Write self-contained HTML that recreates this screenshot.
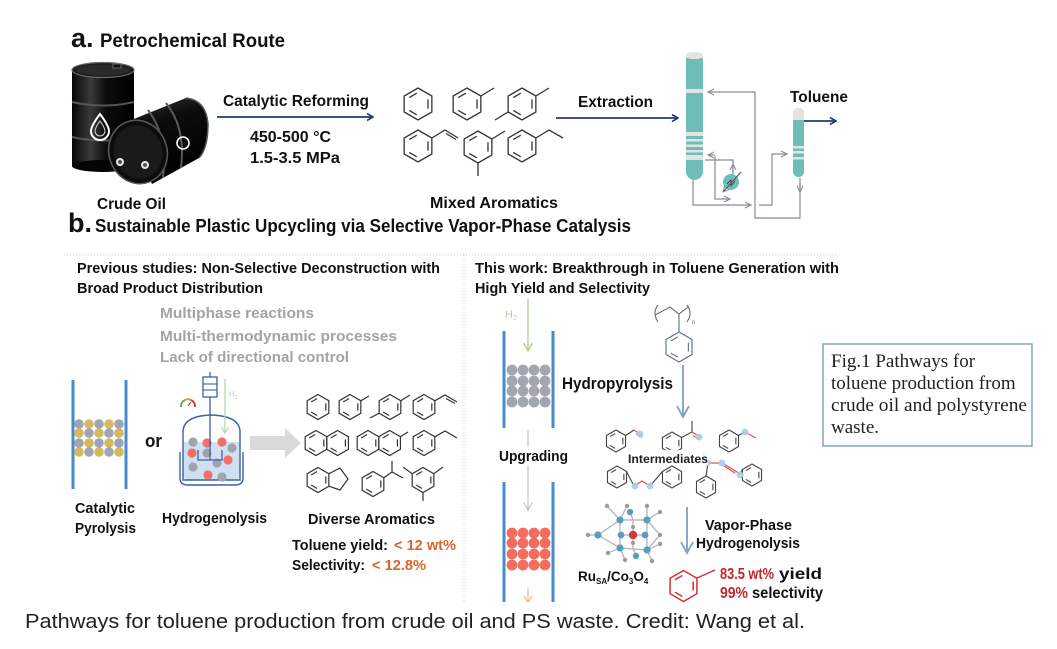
<!DOCTYPE html>
<html><head><meta charset="utf-8"><style>
html,body{margin:0;padding:0;background:#fff;}
svg{display:block;}
text{font-family:"Liberation Sans",Arial,sans-serif;}
.b{font-weight:bold;}
</style></head><body>
<svg width="1057" height="649" viewBox="0 0 1057 649" xmlns="http://www.w3.org/2000/svg">
<defs>
<g id="bz" fill="none">
<polygon vector-effect="non-scaling-stroke" points="0,-10 8.66,-5 8.66,5 0,10 -8.66,5 -8.66,-5"/>
<line vector-effect="non-scaling-stroke" x1="6.24" y1="-2.9" x2="6.24" y2="2.9"/>
<line vector-effect="non-scaling-stroke" x1="-0.75" y1="6.77" x2="-5.49" y2="4.03"/>
<line vector-effect="non-scaling-stroke" x1="-5.49" y1="-4.03" x2="-0.75" y2="-6.77"/>
</g>
<linearGradient id="bar1" x1="0" y1="0" x2="1" y2="0">
<stop offset="0" stop-color="#050505"/><stop offset="0.3" stop-color="#3a3a3a"/><stop offset="0.55" stop-color="#0c0c0c"/><stop offset="1" stop-color="#000"/>
</linearGradient>
<linearGradient id="bar2" x1="0" y1="0" x2="0.3" y2="1">
<stop offset="0" stop-color="#3a3a3a"/><stop offset="0.35" stop-color="#0c0c0c"/><stop offset="1" stop-color="#000"/>
</linearGradient>
<clipPath id="cl"><rect x="0" y="0" width="1057" height="602"/></clipPath>
<marker id="an" markerWidth="8" markerHeight="8" refX="7" refY="4" orient="auto" markerUnits="userSpaceOnUse"><path d="M1,0.5 L7,4 L1,7.5" fill="none" stroke="#1f3b73" stroke-width="1.6"/></marker>
<marker id="ag" markerWidth="8" markerHeight="8" refX="7" refY="4" orient="auto" markerUnits="userSpaceOnUse"><path d="M1,1 L7,4 L1,7" fill="none" stroke="#8a8a9a" stroke-width="1.1"/></marker>
</defs>

<g clip-path="url(#cl)">
<!-- ===== a. header ===== -->
<text x="71" y="47" class="b" font-size="27" fill="#111">a.</text>
<text x="100" y="47" class="b" font-size="19" fill="#111" textLength="185" lengthAdjust="spacingAndGlyphs">Petrochemical Route</text>

<!-- barrels -->
<g>
<rect x="72" y="70" width="62" height="96" fill="url(#bar1)"/>
<ellipse cx="103" cy="166" rx="31" ry="6" fill="#050505"/>
<ellipse cx="103" cy="70" rx="31" ry="7.5" fill="#1c1c1c" stroke="#6a6a6a" stroke-width="1.2"/>
<ellipse cx="103" cy="70" rx="27" ry="5.5" fill="#2a2a2a"/>
<rect x="113" y="64" width="8" height="4" fill="#111" stroke="#777" stroke-width="0.8"/>
<path d="M72,102 Q103,109 134,102" stroke="#555" stroke-width="2" fill="none"/>
<path d="M72,137 Q103,144 134,137" stroke="#555" stroke-width="2" fill="none"/>
<path d="M100,114 Q91,126 91,131 A9,9 0 0 0 109,131 Q109,126 100,114 Z" fill="none" stroke="#fff" stroke-width="2"/>
<path d="M100,121 Q95,128 95,131 A5,5 0 0 0 105,131 Q105,128 100,121 Z" fill="none" stroke="#ddd" stroke-width="1"/>
<!-- lying barrel -->
<path d="M124,123 L186,98 Q206,100 208,124 Q208,148 199,158 L152,184 Z" fill="url(#bar2)"/>
<path d="M148,110 Q168,136 163,178" stroke="#5a5a5a" stroke-width="2" fill="none"/>
<path d="M166,103 Q186,128 181,168" stroke="#5a5a5a" stroke-width="2" fill="none"/>
<path d="M186,98 Q206,100 208,124 Q208,148 199,158" stroke="#555" stroke-width="1.5" fill="none"/>
<ellipse cx="138" cy="152" rx="29" ry="32" transform="rotate(-20 138 152)" fill="#0d0d0d" stroke="#5a5a5a" stroke-width="1.5"/>
<ellipse cx="138" cy="152" rx="24" ry="27" transform="rotate(-20 138 152)" fill="#1a1a1a"/>
<circle cx="120" cy="162" r="4" fill="#e8e8e8"/><circle cx="145" cy="165" r="4" fill="#e8e8e8"/>
<circle cx="120" cy="162" r="2" fill="#555"/><circle cx="145" cy="165" r="2" fill="#555"/>
<circle cx="183" cy="143" r="6" fill="none" stroke="#fff" stroke-width="1.6"/>
</g>
<text x="97" y="209" class="b" font-size="16" fill="#111" textLength="69" lengthAdjust="spacingAndGlyphs">Crude Oil</text>

<!-- catalytic reforming -->
<text x="223" y="106" class="b" font-size="16" fill="#111" textLength="146" lengthAdjust="spacingAndGlyphs">Catalytic Reforming</text>
<line x1="217" y1="117" x2="373" y2="117" stroke="#1f3b73" stroke-width="1.8" marker-end="url(#an)"/>
<text x="250" y="142" class="b" font-size="16" fill="#111" textLength="81" lengthAdjust="spacingAndGlyphs">450-500 °C</text>
<text x="250" y="163" class="b" font-size="16" fill="#111" textLength="90" lengthAdjust="spacingAndGlyphs">1.5-3.5 MPa</text>

<!-- mixed aromatics -->
<g stroke="#333" stroke-width="1.3" fill="none">
<use href="#bz" transform="translate(418,104) scale(1.6)"/>
<use href="#bz" transform="translate(467,104) scale(1.6)"/>
<line x1="480.9" y1="96" x2="494" y2="88"/>
<use href="#bz" transform="translate(522,104) scale(1.6)"/>
<line x1="535.9" y1="96" x2="549" y2="88"/>
<line x1="508.1" y1="112" x2="495" y2="120"/>
<use href="#bz" transform="translate(418,146) scale(1.6)"/>
<polyline points="431.9,138 445,130 458,138"/>
<line x1="446" y1="133.5" x2="456" y2="139.5"/>
<use href="#bz" transform="translate(478,147) scale(1.6)"/>
<line x1="491.9" y1="139" x2="505" y2="131"/>
<line x1="478" y1="163" x2="478" y2="176"/>
<use href="#bz" transform="translate(522,146) scale(1.6)"/>
<polyline points="535.9,138 549,130 563,138"/>
</g>
<text x="430" y="208" class="b" font-size="16" fill="#111" textLength="128" lengthAdjust="spacingAndGlyphs">Mixed Aromatics</text>

<!-- extraction -->
<text x="578" y="107" class="b" font-size="16" fill="#111" textLength="75" lengthAdjust="spacingAndGlyphs">Extraction</text>
<line x1="556" y1="118" x2="678" y2="118" stroke="#1f3b73" stroke-width="1.8" marker-end="url(#an)"/>
<text x="790" y="102" class="b" font-size="16" fill="#111" textLength="58" lengthAdjust="spacingAndGlyphs">Toluene</text>

<!-- columns -->
<rect x="686" y="52" width="17" height="128" rx="8.5" fill="#6fbdb7"/>
<rect x="686" y="52" width="17" height="7" rx="6" fill="#e3e3e3"/>
<g fill="#e3e3e3">
<rect x="686" y="89" width="17" height="4"/>
<rect x="686" y="132" width="17" height="4"/>
<rect x="686" y="139" width="17" height="2.5"/>
<rect x="686" y="144.5" width="17" height="2.5"/>
<rect x="686" y="150" width="17" height="2.5"/>
<rect x="686" y="155" width="17" height="5"/>
</g>
<rect x="793" y="108" width="11" height="69" rx="5.5" fill="#6fbdb7"/>
<rect x="793" y="108" width="11" height="12" rx="5" fill="#e3e3e3"/>
<rect x="793" y="115" width="11" height="5" fill="#e3e3e3"/>
<g fill="#e3e3e3">
<rect x="793" y="146" width="11" height="2.5"/>
<rect x="793" y="151" width="11" height="2.5"/>
<rect x="793" y="157" width="11" height="2.5"/>
</g>
<line x1="804" y1="121" x2="836" y2="121" stroke="#1f3b73" stroke-width="1.8" marker-end="url(#an)"/>
<g stroke="#8a8a9a" stroke-width="1.2" fill="none">
<polyline points="800,178 800,218 755,218 755,92 708,92" marker-end="url(#ag)"/>
<line x1="800" y1="182" x2="800" y2="192" marker-end="url(#ag)"/>
<polyline points="693,180 693,205 751,205" marker-end="url(#ag)"/>
<polyline points="759,205 772,205 772,154 787,154" marker-end="url(#ag)"/>
<polyline points="715,156 715,199 730,199" marker-end="url(#ag)"/>
<line x1="715" y1="155" x2="708" y2="155" marker-end="url(#ag)"/>
<polyline points="705,160 733,160 733,174"/>
<line x1="733" y1="176" x2="733" y2="164" marker-end="url(#ag)"/>
</g>
<circle cx="731" cy="182" r="8" fill="#6fbdb7"/>
<line x1="741" y1="172" x2="723" y2="192" stroke="#555" stroke-width="1.1" marker-end="url(#ag)"/>
<polyline points="727,184 731,180 731,186 735,181" stroke="#444" stroke-width="0.9" fill="none"/>

<!-- ===== b. header ===== -->
<text x="68" y="232" class="b" font-size="27" fill="#111">b.</text>
<text x="95" y="232" class="b" font-size="18" fill="#111" textLength="536" lengthAdjust="spacingAndGlyphs">Sustainable Plastic Upcycling via Selective Vapor-Phase Catalysis</text>

<!-- dotted frames -->
<g stroke="#cfcfcf" stroke-width="1" stroke-dasharray="1,2" fill="none">
<line x1="64" y1="255" x2="837" y2="255"/>
<line x1="464" y1="255" x2="464" y2="602"/>
</g>

<!-- left panel -->
<text x="77" y="273" class="b" font-size="14.5" fill="#111" textLength="363" lengthAdjust="spacingAndGlyphs">Previous studies: Non-Selective Deconstruction with</text>
<text x="77" y="293" class="b" font-size="14.5" fill="#111" textLength="186" lengthAdjust="spacingAndGlyphs">Broad Product Distribution</text>
<text x="160" y="318" class="b" font-size="15" fill="#a3a3a3" textLength="154" lengthAdjust="spacingAndGlyphs">Multiphase reactions</text>
<text x="160" y="341" class="b" font-size="15" fill="#a3a3a3" textLength="237" lengthAdjust="spacingAndGlyphs">Multi-thermodynamic processes</text>
<text x="160" y="362" class="b" font-size="15" fill="#a3a3a3" textLength="189" lengthAdjust="spacingAndGlyphs">Lack of directional control</text>

<!-- catalytic pyrolysis -->
<line x1="73" y1="380" x2="73" y2="489" stroke="#4a8bcb" stroke-width="3"/>
<line x1="126" y1="380" x2="126" y2="489" stroke="#4a8bcb" stroke-width="3"/>
<g>
<circle cx="79" cy="424" r="4.8" fill="#9ea5b6"/><circle cx="89" cy="424" r="4.8" fill="#d6b95c"/><circle cx="99" cy="424" r="4.8" fill="#9ea5b6"/><circle cx="109" cy="424" r="4.8" fill="#d6b95c"/><circle cx="119" cy="424" r="4.8" fill="#9ea5b6"/>
<circle cx="79" cy="433" r="4.8" fill="#d6b95c"/><circle cx="89" cy="433" r="4.8" fill="#9ea5b6"/><circle cx="99" cy="433" r="4.8" fill="#d6b95c"/><circle cx="109" cy="433" r="4.8" fill="#9ea5b6"/><circle cx="119" cy="433" r="4.8" fill="#d6b95c"/>
<circle cx="79" cy="443" r="4.8" fill="#9ea5b6"/><circle cx="89" cy="443" r="4.8" fill="#d6b95c"/><circle cx="99" cy="443" r="4.8" fill="#9ea5b6"/><circle cx="109" cy="443" r="4.8" fill="#d6b95c"/><circle cx="119" cy="443" r="4.8" fill="#9ea5b6"/>
<circle cx="79" cy="452" r="4.8" fill="#d6b95c"/><circle cx="89" cy="452" r="4.8" fill="#9ea5b6"/><circle cx="99" cy="452" r="4.8" fill="#d6b95c"/><circle cx="109" cy="452" r="4.8" fill="#9ea5b6"/><circle cx="119" cy="452" r="4.8" fill="#d6b95c"/>
</g>
<text x="145" y="447" class="b" font-size="18" fill="#111" textLength="17" lengthAdjust="spacingAndGlyphs">or</text>
<text x="75" y="513" class="b" font-size="14.5" fill="#111" textLength="60" lengthAdjust="spacingAndGlyphs">Catalytic</text>
<text x="75" y="533" class="b" font-size="14.5" fill="#111" textLength="61" lengthAdjust="spacingAndGlyphs">Pyrolysis</text>

<!-- hydrogenolysis vessel -->
<path d="M183,442 L183,474 Q183,480 190,480 L233,480 Q240,480 240,474 L240,442 Z" fill="#cfe1f1"/>
<path d="M183,480 L183,432 Q183,416 211,415 Q240,416 240,432 L240,480 Z" fill="none" stroke="#3d5fa8" stroke-width="1.4"/>
<path d="M180,452 L180,478 Q180,485 188,485 L235,485 Q243,485 243,478 L243,452" fill="none" stroke="#3d5fa8" stroke-width="1.4"/>
<rect x="203" y="377" width="14" height="20" fill="#fff" stroke="#3d5fa8" stroke-width="1.3"/>
<line x1="203" y1="384" x2="217" y2="384" stroke="#3d5fa8" stroke-width="1.1"/>
<line x1="203" y1="390" x2="217" y2="390" stroke="#3d5fa8" stroke-width="1.1"/>
<line x1="210" y1="372" x2="210" y2="377" stroke="#3d5fa8" stroke-width="1.3"/>
<g>
<circle cx="193" cy="442" r="4.6" fill="#a2a4ad"/><circle cx="207" cy="443" r="4.6" fill="#f07068"/><circle cx="222" cy="442" r="4.6" fill="#f07068"/><circle cx="232" cy="448" r="4.6" fill="#a2a4ad"/>
<circle cx="192" cy="453" r="4.6" fill="#f07068"/><circle cx="207" cy="453" r="4.6" fill="#a2a4ad"/><circle cx="228" cy="460" r="4.6" fill="#f07068"/><circle cx="217" cy="463" r="4.6" fill="#a2a4ad"/>
<circle cx="193" cy="467" r="4.6" fill="#a2a4ad"/><circle cx="208" cy="475" r="4.6" fill="#f07068"/><circle cx="222" cy="477" r="4.6" fill="#a2a4ad"/>
</g>
<line x1="210" y1="397" x2="210" y2="460" stroke="#3d5fa8" stroke-width="1.3"/>
<polyline points="198,450 198,460 222,460 222,450" fill="none" stroke="#3d5fa8" stroke-width="1.3"/>
<path d="M181,407 A7,7 0 0 1 185,400" fill="none" stroke="#6aa84f" stroke-width="2"/>
<path d="M185,400 A7,7 0 0 1 191,400" fill="none" stroke="#e69138" stroke-width="2"/>
<path d="M191,400 A7,7 0 0 1 195,407" fill="none" stroke="#cc3333" stroke-width="2"/>
<line x1="188" y1="406" x2="191" y2="402" stroke="#555" stroke-width="1"/>
<line x1="225" y1="379" x2="225" y2="432" stroke="#b5d6a0" stroke-width="1.2"/>
<polyline points="221.5,427 225,433 228.5,427" fill="none" stroke="#b5d6a0" stroke-width="1.2"/>
<text x="229" y="397" font-size="8" fill="#b5d6a0">H<tspan font-size="5.5" dy="2">2</tspan></text>
<text x="162" y="523" class="b" font-size="14.5" fill="#111" textLength="105" lengthAdjust="spacingAndGlyphs">Hydrogenolysis</text>

<!-- gray arrow -->
<polygon points="250,436 285,436 285,428 301,443 285,458 285,450 250,450" fill="#d9d9d9"/>

<!-- diverse aromatics -->
<g stroke="#333" stroke-width="1.2" fill="none">
<use href="#bz" transform="translate(318,407) scale(1.25)"/>
<use href="#bz" transform="translate(350,407) scale(1.25)"/>
<line x1="360.8" y1="400.8" x2="369" y2="396"/>
<use href="#bz" transform="translate(390,407) scale(1.25)"/>
<line x1="400.8" y1="400.8" x2="410" y2="395"/>
<line x1="379.2" y1="413.2" x2="370" y2="418"/>
<use href="#bz" transform="translate(424,407) scale(1.25)"/>
<polyline points="434.8,400.8 445,395 457,402"/>
<line x1="446" y1="398.5" x2="455" y2="403.5"/>

<use href="#bz" transform="translate(316,443) scale(1.25)"/>
<use href="#bz" transform="translate(337.6,443) scale(1.25)"/>
<use href="#bz" transform="translate(368,443) scale(1.25)"/>
<use href="#bz" transform="translate(389.6,443) scale(1.25)"/>
<line x1="400.4" y1="436.8" x2="408" y2="432"/>
<use href="#bz" transform="translate(424,443) scale(1.25)"/>
<polyline points="434.8,436.8 445,431 457,438"/>

<use href="#bz" transform="translate(318,480) scale(1.25)"/>
<polyline points="328.8,473.8 340,468 348,479 340,490 328.8,486.2"/>
<use href="#bz" transform="translate(373,484) scale(1.25)"/>
<polyline points="383.8,477.8 392,472 403,478"/>
<line x1="392" y1="472" x2="392" y2="461"/>
<use href="#bz" transform="translate(423,480) scale(1.25)"/>
<line x1="433.8" y1="473.8" x2="443" y2="467"/>
<line x1="412.2" y1="473.8" x2="403" y2="467"/>
<line x1="423" y1="492.5" x2="423" y2="501"/>
</g>
<text x="308" y="524" class="b" font-size="15" fill="#111" textLength="127" lengthAdjust="spacingAndGlyphs">Diverse Aromatics</text>
<text x="292" y="550" class="b" font-size="14.5" fill="#111" textLength="96" lengthAdjust="spacingAndGlyphs">Toluene yield:</text>
<text x="394" y="550" class="b" font-size="14.5" fill="#d9652b" textLength="62" lengthAdjust="spacingAndGlyphs">&lt; 12 wt%</text>
<text x="292" y="570" class="b" font-size="14.5" fill="#111" textLength="73" lengthAdjust="spacingAndGlyphs">Selectivity:</text>
<text x="372" y="570" class="b" font-size="14.5" fill="#d9652b" textLength="54" lengthAdjust="spacingAndGlyphs">&lt; 12.8%</text>

<!-- right panel -->
<text x="475" y="273" class="b" font-size="14.5" fill="#111" textLength="364" lengthAdjust="spacingAndGlyphs">This work: Breakthrough in Toluene Generation with</text>
<text x="475" y="293" class="b" font-size="14.5" fill="#111" textLength="175" lengthAdjust="spacingAndGlyphs">High Yield and Selectivity</text>

<line x1="504" y1="331" x2="504" y2="428" stroke="#4a8bcb" stroke-width="3"/>
<line x1="553" y1="331" x2="553" y2="428" stroke="#4a8bcb" stroke-width="3"/>
<line x1="504" y1="482" x2="504" y2="602" stroke="#4a8bcb" stroke-width="3"/>
<line x1="553" y1="482" x2="553" y2="602" stroke="#4a8bcb" stroke-width="3"/>
<g fill="#a2a6b0">
<circle cx="512" cy="370" r="5.4"/><circle cx="523" cy="370" r="5.4"/><circle cx="534" cy="370" r="5.4"/><circle cx="545" cy="370" r="5.4"/>
<circle cx="512" cy="381" r="5.4"/><circle cx="523" cy="381" r="5.4"/><circle cx="534" cy="381" r="5.4"/><circle cx="545" cy="381" r="5.4"/>
<circle cx="512" cy="391" r="5.4"/><circle cx="523" cy="391" r="5.4"/><circle cx="534" cy="391" r="5.4"/><circle cx="545" cy="391" r="5.4"/>
<circle cx="512" cy="402" r="5.4"/><circle cx="523" cy="402" r="5.4"/><circle cx="534" cy="402" r="5.4"/><circle cx="545" cy="402" r="5.4"/>
</g>
<g fill="#f36d5e">
<circle cx="512" cy="533" r="5.4"/><circle cx="523" cy="533" r="5.4"/><circle cx="534" cy="533" r="5.4"/><circle cx="545" cy="533" r="5.4"/>
<circle cx="512" cy="543" r="5.4"/><circle cx="523" cy="543" r="5.4"/><circle cx="534" cy="543" r="5.4"/><circle cx="545" cy="543" r="5.4"/>
<circle cx="512" cy="554" r="5.4"/><circle cx="523" cy="554" r="5.4"/><circle cx="534" cy="554" r="5.4"/><circle cx="545" cy="554" r="5.4"/>
<circle cx="512" cy="565" r="5.4"/><circle cx="523" cy="565" r="5.4"/><circle cx="534" cy="565" r="5.4"/><circle cx="545" cy="565" r="5.4"/>
</g>
<text x="505" y="318" font-size="11" fill="#b5d6a0">H<tspan font-size="7.5" dy="2">2</tspan></text>
<line x1="528" y1="299" x2="528" y2="350" stroke="#a9d18e" stroke-width="1.3"/>
<polyline points="523.5,343 528,351 532.5,343" fill="none" stroke="#a9d18e" stroke-width="1.3"/>
<line x1="528" y1="429" x2="528" y2="510" stroke="#c4c4c4" stroke-width="1.2"/>
<polyline points="523.5,502 528,510 532.5,502" fill="none" stroke="#c4c4c4" stroke-width="1.2"/>
<rect x="497" y="447" width="74" height="18" fill="#fff"/>
<text x="499" y="461" class="b" font-size="14.5" fill="#111" textLength="69" lengthAdjust="spacingAndGlyphs">Upgrading</text>
<line x1="528" y1="588" x2="528" y2="602" stroke="#f4b183" stroke-width="1.2"/>
<polyline points="524,596 528,603 532,596" fill="none" stroke="#f4b183" stroke-width="1.2"/>

<text x="562" y="389" class="b" font-size="17" fill="#111" textLength="111" lengthAdjust="spacingAndGlyphs">Hydropyrolysis</text>

<!-- PS -->
<g stroke="#5b6c8c" stroke-width="1.1" fill="none">
<path d="M658,305 Q652,313 658,322"/>
<polyline points="655,315 670,307 679,314 688,307"/>
<path d="M687,305 Q693,313 687,322"/>
<line x1="679" y1="314" x2="679" y2="332"/>
<use href="#bz" transform="translate(679,347) scale(1.5)"/>
</g>
<text x="692" y="324" font-size="6" fill="#5b6c8c">n</text>
<line x1="683" y1="365" x2="683" y2="416" stroke="#7f9fc6" stroke-width="1.8"/>
<polyline points="677,406 683,417 689,406" fill="none" stroke="#7f9fc6" stroke-width="1.8"/>

<!-- intermediates -->
<g stroke="#444" stroke-width="1.1" fill="none">
<use href="#bz" transform="translate(616,441) scale(1.1)"/>
<use href="#bz" transform="translate(672,443) scale(1.1)"/>
<use href="#bz" transform="translate(729,441) scale(1.1)"/>
<use href="#bz" transform="translate(617,477) scale(1.1)"/>
<use href="#bz" transform="translate(672,477) scale(1.1)"/>
<use href="#bz" transform="translate(706,487) scale(1.1)"/>
<use href="#bz" transform="translate(752,475) scale(1.1)"/>
<line x1="625.5" y1="435.5" x2="634" y2="430"/>
<line x1="681.5" y1="437.5" x2="692" y2="432"/>
<line x1="692" y1="432" x2="692" y2="421"/>
<line x1="738.5" y1="435.5" x2="745" y2="432"/>
<line x1="626.5" y1="471.5" x2="634" y2="486"/>
<line x1="650" y1="486" x2="662.5" y2="471.5"/>
<line x1="706" y1="476" x2="708" y2="463"/>
<line x1="708" y1="463" x2="703" y2="453"/>
<line x1="740" y1="475" x2="742.5" y2="469.5"/>
</g>
<g stroke="#d9534f" stroke-width="1.2" fill="none">
<polyline points="634,430 643,436"/><line x1="636" y1="433.5" x2="642" y2="437.5"/>
<polyline points="692,432 702,438"/><line x1="693" y1="435.5" x2="700" y2="440"/>
<polyline points="745,432 756,438"/>
<polyline points="634,486 642,481 650,486"/>
<polyline points="708,463 722,463 737,472 740,475"/>
<line x1="724" y1="466" x2="735" y2="473"/>
</g>
<g fill="#a9d0ea" opacity="0.9">
<circle cx="640" cy="434" r="3.5"/><circle cx="699" cy="437" r="3.5"/><circle cx="745" cy="432" r="3.5"/>
<circle cx="635" cy="486" r="3.5"/><circle cx="650" cy="486" r="3.5"/>
<circle cx="722" cy="463" r="3.5"/><circle cx="740" cy="475" r="3.5"/><circle cx="708" cy="463" r="3"/>
</g>
<rect x="626" y="450" width="82" height="15" fill="#fff" opacity="0.85"/>
<text x="628" y="463" class="b" font-size="12" fill="#222" textLength="80" lengthAdjust="spacingAndGlyphs">Intermediates</text>

<!-- catalyst -->
<g stroke="#b0b0b0" stroke-width="1.2" fill="none">
<polyline points="588,535 598,535 620,520 647,520 660,535 647,550 620,548 598,535"/>
<line x1="620" y1="520" x2="620" y2="548"/><line x1="647" y1="520" x2="647" y2="550"/>
<line x1="620" y1="535" x2="647" y2="535"/><line x1="633" y1="520" x2="633" y2="548"/>
<line x1="620" y1="520" x2="607" y2="506"/><line x1="620" y1="520" x2="627" y2="506"/>
<line x1="647" y1="520" x2="647" y2="506"/><line x1="647" y1="520" x2="660" y2="512"/>
<line x1="620" y1="548" x2="608" y2="553"/><line x1="620" y1="548" x2="625" y2="560"/>
<line x1="647" y1="550" x2="652" y2="561"/><line x1="647" y1="550" x2="660" y2="544"/>
<line x1="633" y1="520" x2="630" y2="512"/><line x1="633" y1="548" x2="636" y2="556"/>
</g>
<g fill="#5b9bc2">
<circle cx="598" cy="535" r="3.6"/><circle cx="620" cy="520" r="3.6"/><circle cx="647" cy="520" r="3.6"/>
<circle cx="620" cy="548" r="3.6"/><circle cx="647" cy="550" r="3.6"/><circle cx="645" cy="535" r="3.4"/>
<circle cx="621" cy="535" r="3.4"/><circle cx="630" cy="512" r="3.2"/><circle cx="636" cy="556" r="3.2"/>
</g>
<g fill="#9a9a9a">
<circle cx="588" cy="535" r="2.2"/><circle cx="607" cy="506" r="2.2"/><circle cx="627" cy="506" r="2.2"/>
<circle cx="647" cy="506" r="2.2"/><circle cx="660" cy="512" r="2.2"/><circle cx="660" cy="535" r="2.2"/>
<circle cx="660" cy="544" r="2.2"/><circle cx="652" cy="561" r="2.2"/><circle cx="625" cy="560" r="2.2"/>
<circle cx="608" cy="553" r="2.2"/><circle cx="633" cy="527" r="2"/><circle cx="633" cy="543" r="2"/>
</g>
<circle cx="633" cy="535" r="4.2" fill="#d33a3a"/>
<text x="578" y="581" class="b" font-size="13.5" fill="#111">Ru<tspan font-size="8" dy="3">SA</tspan><tspan dy="-3">/Co</tspan><tspan font-size="8" dy="3">3</tspan><tspan dy="-3">O</tspan><tspan font-size="8" dy="3">4</tspan></text>

<line x1="687" y1="507" x2="687" y2="552" stroke="#7f9fc6" stroke-width="1.8"/>
<polyline points="681,542 687,553 693,542" fill="none" stroke="#7f9fc6" stroke-width="1.8"/>
<text x="705" y="530" class="b" font-size="14.5" fill="#111" textLength="87" lengthAdjust="spacingAndGlyphs">Vapor-Phase</text>
<text x="696" y="548" class="b" font-size="14.5" fill="#111" textLength="104" lengthAdjust="spacingAndGlyphs">Hydrogenolysis</text>

<g stroke="#d03030" stroke-width="1.5" fill="none">
<use href="#bz" transform="translate(683.5,586) scale(1.55)"/>
<line x1="697" y1="578" x2="715" y2="570"/>
</g>
<text x="720" y="579" class="b" font-size="15.5" fill="#c0272d" textLength="54" lengthAdjust="spacingAndGlyphs">83.5 wt%</text>
<text x="779" y="579" class="b" font-size="15.5" fill="#111" textLength="43" lengthAdjust="spacingAndGlyphs">yield</text>
<text x="720" y="598" class="b" font-size="15.5" fill="#c0272d" textLength="28" lengthAdjust="spacingAndGlyphs">99%</text>
<text x="752" y="598" class="b" font-size="15.5" fill="#111" textLength="71" lengthAdjust="spacingAndGlyphs">selectivity</text>

<!-- fig box -->
<rect x="823" y="344" width="209" height="102" fill="#fff" stroke="#7b9cc6" stroke-width="1.4"/>
<g font-size="19" fill="#222">
<text x="831" y="367" style="font-family:'Liberation Serif',serif">Fig.1 Pathways for</text>
<text x="831" y="389" style="font-family:'Liberation Serif',serif">toluene production from</text>
<text x="831" y="411" style="font-family:'Liberation Serif',serif" textLength="196" lengthAdjust="spacingAndGlyphs">crude oil and polystyrene</text>
<text x="831" y="433" style="font-family:'Liberation Serif',serif">waste.</text>
</g>
</g>

<!-- caption -->
<text x="25" y="628" font-size="20" fill="#222" textLength="780" lengthAdjust="spacingAndGlyphs">Pathways for toluene production from crude oil and PS waste. Credit: Wang et al.</text>
</svg>
</body></html>
